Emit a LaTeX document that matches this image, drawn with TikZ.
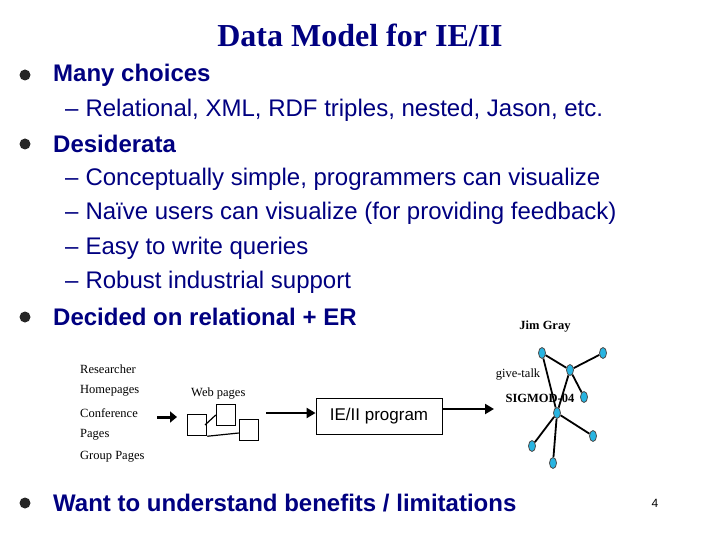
\documentclass[tikz,border=0pt]{standalone}
\usepackage{fontspec}
\setmainfont{Liberation Serif}
\newfontfamily\arial{Liberation Sans}
\usetikzlibrary{arrows.meta,shapes.geometric}
\definecolor{navy}{RGB}{0,0,128}
\definecolor{nodecyan}{RGB}{40,180,225}
\tikzset{
  bul/.style={anchor=west,font=\arial\bfseries\fontsize{24}{26}\selectfont,text=navy,inner sep=0pt},
  sub/.style={anchor=west,font=\arial\fontsize{24}{26}\selectfont,text=navy,inner sep=0pt},
  dot/.style={circle,fill=black!85,minimum size=11pt,inner sep=0pt},
  small/.style={anchor=west,font=\fontsize{12.5}{14}\selectfont,inner sep=0pt},
  page/.style={draw,line width=1.5pt,minimum width=19pt,minimum height=21pt,inner sep=0pt},
  gnode/.style={ellipse,draw=black!70,fill=nodecyan,line width=0.8pt,minimum width=7pt,minimum height=11pt,inner sep=0pt},
  gedge/.style={line width=1.8pt},
  bigarrow/.style={line width=2pt,-{Triangle[length=9pt,width=10pt]}}
}
\begin{document}
\begin{tikzpicture}[x=1pt,y=-1pt]
\useasboundingbox (0,0) rectangle (720,540);
\node[font=\bfseries\fontsize{32}{36}\selectfont,text=navy] (title) at (360,35) {Data Model for IE/II};
\node[dot] (d1) at (25,75) {}; \node[bul] (b1) at (53,75) {Many choices};
\node[sub] (s1) at (65,110) {–\hspace{7pt}Relational, XML, RDF triples, nested, Jason, etc.};
\node[dot] (d2) at (25,144) {}; \node[bul] (b2) at (53,144) {Desiderata};
\node[sub] (s2) at (65,179) {–\hspace{7pt}Conceptually simple, programmers can visualize};
\node[sub] (s3) at (65,213) {–\hspace{7pt}Naïve users can visualize (for providing feedback)};
\node[sub] (s4) at (65,248) {–\hspace{7pt}Easy to write queries};
\node[sub] (s5) at (65,282) {–\hspace{7pt}Robust industrial support};
\node[dot] (d3) at (25,317) {}; \node[bul] (b3) at (53,317) {Decided on relational + ER};
\node[dot] (d4) at (25,503) {}; \node[bul] (b4) at (53,503) {Want to understand benefits / limitations};
\node[font=\arial\fontsize{12}{14}\selectfont] (pn) at (655,503) {4};
% left texts
\node[small] (t1) at (80,369) {Researcher};
\node[small] (t2) at (80,391) {Homepages};
\node[small] (t3) at (80,413) {Conference};
\node[small] (t4) at (80,435) {Pages};
\node[small] (t5) at (80,457) {Group Pages};
\node[small] (wp) at (191,394) {Web pages};
\coordinate (a0) at (157,417); \coordinate (a1) at (177,417);
\draw[line width=3pt,-{Triangle[length=7pt,width=11pt]}] (a0) -- (a1);
\node[page] (p1) at (197,425) {};
\node[page] (p2) at (226,415) {};
\node[page] (p3) at (249,430) {};
\draw[line width=1.2pt] (205,425) -- (p2.west);
\draw[line width=1.2pt] (p1.south east) -- (p3.west|-433,433);
\coordinate (c0) at (266,413);
\node[draw,line width=0.8pt,minimum width=126pt,minimum height=36pt,font=\arial\fontsize{17}{20}\selectfont] (ie) at (379,416) {IE/II program};
\draw[bigarrow] (c0) -- (ie.west|-0,413);
\coordinate (c1) at (494,409);
\draw[bigarrow] (ie.east|-0,409) -- (c1);
% graph
\node[small,font=\bfseries\fontsize{12.5}{14}\selectfont,anchor=center] (jg) at (545,327) {Jim Gray};
\node[small,anchor=center] (gt) at (518,375) {give-talk};
\node[small,font=\bfseries\fontsize{12.5}{14}\selectfont,anchor=center] (sg) at (540,398) {SIGMOD-04};
\node[gnode] (A) at (542,353) {};
\node[gnode] (B) at (603,353) {};
\node[gnode] (C) at (570,370) {};
\node[gnode] (D) at (584,397) {};
\node[gnode] (E) at (557,413) {};
\node[gnode] (F) at (532,446) {};
\node[gnode] (G) at (593,436) {};
\node[gnode] (H) at (553,463) {};
\draw[gedge] (A) -- (C); \draw[gedge] (C) -- (B); \draw[gedge] (C) -- (D);
\draw[gedge] (A) -- (E); \draw[gedge] (C) -- (E); \draw[gedge] (E) -- (F);
\draw[gedge] (E) -- (G); \draw[gedge] (E) -- (H);
\end{tikzpicture}
\end{document}
